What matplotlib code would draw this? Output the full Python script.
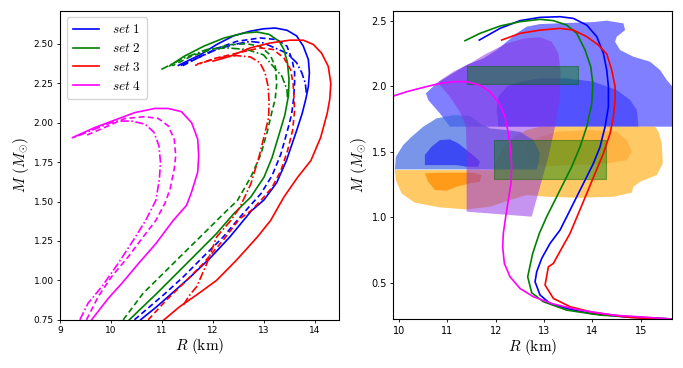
import matplotlib
matplotlib.use("Agg")
import matplotlib.pyplot as plt

plt.rcParams['mathtext.fontset'] = 'cm'

# ---------------- left panel: M-R curves, 4 sets x 3 line styles ----------------
set1_solid_R = [10.58, 10.90, 11.16, 11.55, 11.94, 12.33, 12.75, 13.0, 13.25, 13.44, 13.64, 13.75, 13.82,
                13.87, 13.89, 13.87, 13.77, 13.64, 13.45, 13.22, 12.99, 12.73, 12.40, 12.07, 11.75, 11.32]
set1_solid_M = [0.75, 0.834, 0.908, 1.02, 1.14, 1.275, 1.44, 1.51, 1.62, 1.76, 1.95, 2.06, 2.15,
                2.23, 2.317, 2.40, 2.485, 2.55, 2.586, 2.60, 2.595, 2.58, 2.55, 2.495, 2.43, 2.363]
set1_dash_R = [10.46, 11.03, 11.42, 11.81, 12.20, 12.58, 12.94, 13.16, 13.33, 13.46, 13.54, 13.58, 13.60,
               13.60, 13.55, 13.45, 13.25, 12.92, 12.46, 12.07, 11.70, 11.40]
set1_dash_M = [0.75, 0.908, 1.023, 1.15, 1.275, 1.42, 1.55, 1.665, 1.80, 1.95, 2.05, 2.15, 2.25,
               2.32, 2.40, 2.485, 2.527, 2.537, 2.515, 2.47, 2.41, 2.36]
set1_dd_R = [13.83, 13.81, 13.74, 13.64, 13.45, 13.24, 12.99, 12.73, 12.40, 12.07, 11.70, 11.35]
set1_dd_M = [2.19, 2.25, 2.317, 2.38, 2.44, 2.47, 2.505, 2.515, 2.495, 2.464, 2.41, 2.36]

set2_solid_R = [10.36, 10.90, 11.29, 11.68, 12.07, 12.40, 12.74, 13.0, 13.16, 13.30, 13.41, 13.45, 13.48,
                13.49, 13.46, 13.39, 13.30, 13.10, 12.86, 12.61, 12.22, 11.82, 11.43, 11.15]
set2_solid_M = [0.75, 0.918, 1.044, 1.17, 1.297, 1.42, 1.528, 1.654, 1.78, 1.93, 2.05, 2.12, 2.17,
                2.275, 2.38, 2.464, 2.515, 2.56, 2.575, 2.568, 2.537, 2.485, 2.42, 2.36]
set2_dash_R = [10.24, 10.63, 11.09, 11.48, 11.88, 12.2, 12.48, 12.74, 12.94, 13.07, 13.16, 13.22, 13.25,
               13.22, 13.12, 12.92, 12.66, 12.35, 11.96, 11.57, 11.2]
set2_dash_M = [0.75, 0.918, 1.065, 1.19, 1.317, 1.42, 1.507, 1.654, 1.80, 1.95, 2.075, 2.15, 2.25,
               2.357, 2.43, 2.485, 2.50, 2.495, 2.464, 2.42, 2.36]
set2_dd_R = [13.46, 13.45, 13.35, 13.18, 12.99, 12.66, 12.27, 11.88, 11.43, 10.99]
set2_dd_M = [2.16, 2.21, 2.295, 2.357, 2.43, 2.464, 2.474, 2.464, 2.41, 2.338]

set3_solid_R = [11.04, 11.35, 11.68, 12.07, 12.46, 12.87, 13.13, 13.39, 13.66, 13.92, 14.11, 14.24, 14.29,
                14.31, 14.26, 14.13, 13.97, 13.77, 13.51, 13.12, 12.73, 12.33, 12.0]
set3_solid_M = [0.75, 0.834, 0.908, 1.0, 1.128, 1.275, 1.38, 1.528, 1.654, 1.76, 1.905, 2.06, 2.15,
                2.25, 2.357, 2.44, 2.495, 2.523, 2.523, 2.505, 2.474, 2.42, 2.39]
set3_dash_R = [10.73, 11.09, 11.42, 11.81, 12.20, 12.52, 12.74, 12.94, 13.16, 13.33, 13.46, 13.56, 13.60,
               13.59, 13.57, 13.52, 13.39, 13.18, 12.92, 12.46, 12.07, 11.68]
set3_dash_M = [0.75, 0.876, 0.98, 1.107, 1.255, 1.39, 1.44, 1.507, 1.59, 1.696, 1.82, 1.95, 2.075,
               2.15, 2.25, 2.337, 2.41, 2.464, 2.474, 2.44, 2.41, 2.37]
set3_dd_R = [11.42, 11.55, 11.68, 11.88, 12.07, 12.35, 12.53, 12.74, 12.90, 13.03, 13.09, 13.10, 13.08,
             13.02, 12.92, 12.73, 12.46, 12.07, 11.65]
set3_dd_M = [0.845, 0.91, 0.96, 1.107, 1.275, 1.38, 1.465, 1.61, 1.78, 1.95, 2.03, 2.127, 2.23,
             2.317, 2.38, 2.417, 2.425, 2.41, 2.363]

set4_solid_R = [9.62, 9.95, 10.21, 10.54, 10.88, 11.22, 11.48, 11.58, 11.70, 11.72, 11.70, 11.58, 11.38,
                11.12, 10.86, 10.47, 10.08, 9.69, 9.25]
set4_solid_M = [0.75, 0.887, 0.98, 1.107, 1.233, 1.38, 1.475, 1.56, 1.686, 1.79, 1.896, 2.0, 2.07,
                2.09, 2.09, 2.064, 2.017, 1.97, 1.906]
set4_dash_R = [9.52, 9.75, 10.01, 10.34, 10.63, 10.88, 11.06, 11.16, 11.24, 11.27, 11.24, 11.12, 10.93,
               10.67, 10.27, 9.88, 9.52]
set4_dash_M = [0.75, 0.897, 1.023, 1.15, 1.275, 1.38, 1.49, 1.58, 1.706, 1.79, 1.896, 1.98, 2.026,
               2.038, 2.026, 1.97, 1.92]
set4_dd_R = [9.39, 9.55, 9.82, 10.14, 10.44, 10.68, 10.88, 10.95, 10.97, 10.94, 10.84, 10.67, 10.41,
             10.08, 9.69, 9.23]
set4_dd_M = [0.75, 0.855, 0.96, 1.107, 1.255, 1.38, 1.507, 1.644, 1.75, 1.854, 1.94, 1.99, 2.01,
             2.01, 1.96, 1.90]

# ---------------- right panel: M-R curves ----------------
r_set1_R = [11.659, 12.087, 12.501, 12.915, 13.329, 13.605, 13.881, 14.088, 14.226, 14.295, 14.329, 14.329,
            14.260, 14.157, 14.019, 13.847, 13.674, 13.502, 13.329, 13.122, 12.950, 12.846, 12.812, 12.915,
            13.122, 13.467, 13.950, 14.640, 15.655]
r_set1_M = [2.352, 2.441, 2.500, 2.525, 2.530, 2.517, 2.466, 2.378, 2.250, 2.123, 1.996, 1.844,
            1.692, 1.539, 1.412, 1.285, 1.158, 1.031, 0.904, 0.802, 0.688, 0.586, 0.510, 0.409,
            0.345, 0.307, 0.269, 0.243, 0.226]
r_set2_R = [11.363, 11.673, 12.087, 12.501, 12.915, 13.191, 13.467, 13.674, 13.847, 13.964, 14.006, 13.985,
            13.881, 13.743, 13.571, 13.398, 13.226, 13.053, 12.901, 12.763, 12.660, 12.743, 12.984, 13.467,
            14.157, 15.655]
r_set2_M = [2.347, 2.403, 2.459, 2.492, 2.510, 2.500, 2.466, 2.403, 2.276, 2.149, 2.022, 1.869,
            1.692, 1.539, 1.387, 1.260, 1.133, 1.006, 0.879, 0.726, 0.548, 0.426, 0.358, 0.294,
            0.256, 0.226]
r_set3_R = [12.122, 12.501, 12.915, 13.329, 13.605, 13.881, 14.122, 14.295, 14.398, 14.467, 14.467, 14.433,
            14.364, 14.226, 14.053, 13.881, 13.709, 13.536, 13.343, 13.191, 13.088, 13.019, 13.191, 13.536,
            14.019, 14.778, 15.655]
r_set3_M = [2.352, 2.403, 2.428, 2.441, 2.428, 2.378, 2.314, 2.246, 2.123, 1.996, 1.895, 1.768,
            1.641, 1.488, 1.336, 1.183, 1.031, 0.879, 0.752, 0.650, 0.624, 0.485, 0.383, 0.320,
            0.276, 0.238, 0.218]
r_set4_R = [9.879, 10.155, 10.500, 10.845, 11.121, 11.397, 11.673, 11.880, 12.073, 12.191, 12.260, 12.308,
            12.329, 12.315, 12.260, 12.205, 12.156, 12.143, 12.177, 12.294, 12.501, 12.777, 13.191, 13.743,
            14.433, 15.655]
r_set4_M = [1.925, 1.958, 1.991, 2.022, 2.035, 2.035, 2.009, 1.958, 1.869, 1.768, 1.641, 1.514,
            1.387, 1.260, 1.133, 1.006, 0.879, 0.777, 0.650, 0.548, 0.459, 0.396, 0.340, 0.294,
            0.256, 0.226]

# ---------------- right panel: observational regions ----------------
heavy90_R = [11.052, 10.845, 10.603, 10.555, 10.776, 11.052, 11.397, 11.742, 12.018, 12.225, 12.432, 12.639,
             12.915, 13.260, 13.605, 14.019, 14.295, 14.640, 14.674, 14.502, 14.467, 14.571, 14.847, 15.192,
             15.399, 15.537, 15.655, 15.8, 15.8]
heavy90_M = [1.692, 1.793, 1.895, 1.946, 2.022, 2.085, 2.162, 2.212, 2.276, 2.339, 2.403, 2.454,
             2.474, 2.479, 2.484, 2.489, 2.500, 2.479, 2.428, 2.378, 2.339, 2.276, 2.225, 2.187,
             2.123, 2.047, 1.996, 1.96, 1.692]
heavy50_R = [12.052, 12.018, 12.052, 12.225, 12.501, 12.915, 13.467, 14.019, 14.502, 14.778, 14.916, 14.951]
heavy50_M = [1.692, 1.819, 1.920, 1.996, 2.035, 2.060, 2.060, 2.035, 1.971, 1.895, 1.819, 1.692]

nicer90_R = [9.913, 9.934, 10.086, 10.258, 10.500, 10.776, 11.121, 11.466, 11.673, 11.880, 12.225, 12.501,
             12.777, 12.915, 12.881, 12.846]
nicer90_M = [1.366, 1.463, 1.552, 1.615, 1.692, 1.755, 1.780, 1.775, 1.717, 1.679, 1.666, 1.653,
             1.590, 1.488, 1.412, 1.366]
nicer50_R = [10.534, 10.534, 10.672, 10.845, 11.052, 11.224, 11.397, 11.569, 11.673, 11.638, 11.397, 11.190, 10.845]
nicer50_M = [1.399, 1.476, 1.539, 1.590, 1.595, 1.565, 1.514, 1.463, 1.425, 1.387, 1.387, 1.399, 1.399]

gw90_R = [9.913, 9.934, 10.051, 10.327, 10.845, 11.397, 11.880, 12.294, 12.639, 13.053, 13.743, 14.433,
          14.812, 14.847, 14.985, 15.330, 15.454, 15.434, 15.365, 15.296, 12.915, 12.639, 12.363, 12.156,
          12.018, 11.949]
gw90_M = [1.361, 1.285, 1.183, 1.112, 1.077, 1.061, 1.082, 1.133, 1.171, 1.158, 1.150, 1.158,
          1.189, 1.234, 1.272, 1.323, 1.412, 1.565, 1.653, 1.692, 1.692, 1.666, 1.615, 1.539,
          1.437, 1.361]
gw50a_R = [10.534, 10.603, 10.741, 10.983, 11.190, 11.466, 11.673, 11.707, 11.535, 10.845]
gw50a_M = [1.336, 1.272, 1.209, 1.204, 1.234, 1.260, 1.272, 1.323, 1.341, 1.341]
gw50b_R = [12.639, 12.915, 13.260, 13.950, 14.502, 14.709, 14.812, 14.709, 14.295, 13.605, 13.053, 12.708, 12.605]
gw50b_M = [1.565, 1.615, 1.653, 1.666, 1.653, 1.590, 1.501, 1.437, 1.412, 1.399, 1.392, 1.412, 1.488]

band_R = [11.397, 12.743, 12.915, 13.088, 13.226, 13.315, 13.343, 13.295, 13.157, 12.915, 12.605, 12.225,
          11.811, 11.466, 11.121, 10.810, 10.845, 11.052, 11.259, 11.383, 11.397]
band_M = [1.044, 1.006, 1.234, 1.463, 1.692, 1.895, 2.098, 2.250, 2.339, 2.373, 2.365, 2.326,
          2.250, 2.174, 2.111, 2.035, 2.009, 1.920, 1.806, 1.692, 1.514]

box1_R = [11.41, 13.71]
box1_M = [2.014, 2.154]
box2_R = [11.96, 14.27]
box2_M = [1.29, 1.59]

set_colors = ['blue', 'green', 'red', 'magenta']
set_labels = [r'$set\ 1$', r'$set\ 2$', r'$set\ 3$', r'$set\ 4$']

fig = plt.figure(figsize=(6.83, 3.68), dpi=100)
ax1 = fig.add_axes([0.0878, 0.131, 0.4085, 0.840])
ax2 = fig.add_axes([0.5758, 0.132, 0.4085, 0.839])

# ---------------- left ----------------
left_curves = [
    (set1_solid_R, set1_solid_M, set1_dash_R, set1_dash_M, set1_dd_R, set1_dd_M),
    (set2_solid_R, set2_solid_M, set2_dash_R, set2_dash_M, set2_dd_R, set2_dd_M),
    (set3_solid_R, set3_solid_M, set3_dash_R, set3_dash_M, set3_dd_R, set3_dd_M),
    (set4_solid_R, set4_solid_M, set4_dash_R, set4_dash_M, set4_dd_R, set4_dd_M),
]
for (sR, sM, dR, dM, ddR, ddM), c, lab in zip(left_curves, set_colors, set_labels):
    ax1.plot(sR, sM, '-', color=c, lw=1.2, label=lab)
    ax1.plot(dR, dM, '--', color=c, lw=1.2, dashes=(3.5, 2))
    ax1.plot(ddR, ddM, '-.', color=c, lw=1.2, dashes=(5, 1.5, 1, 1.5))

ax1.set_xlim(9, 14.47)
ax1.set_ylim(0.75, 2.71)
ax1.set_xticks([9, 10, 11, 12, 13, 14])
ax1.set_yticks([0.75, 1.0, 1.25, 1.5, 1.75, 2.0, 2.25, 2.5])
ax1.set_yticklabels(['%.2f' % v for v in [0.75, 1.0, 1.25, 1.5, 1.75, 2.0, 2.25, 2.5]])
ax1.tick_params(labelsize=6.5, length=2.5, width=0.6, pad=2)
ax1.set_xlabel(r'$R\ \rm (km)$', fontsize=11, labelpad=1)
ax1.set_ylabel(r'$M\ (M_{\odot})$', fontsize=11, labelpad=2)
ax1.legend(loc='upper left', fontsize=9.5, handlelength=2.0, labelspacing=0.45,
           borderpad=0.45, handletextpad=1.0)

# ---------------- right ----------------
ax2.fill(heavy90_R, heavy90_M, color='blue', alpha=0.5, lw=0)
ax2.fill(heavy50_R, heavy50_M, color='blue', alpha=0.35, lw=0)
ax2.fill(gw90_R, gw90_M, color='orange', alpha=0.6, lw=0)
ax2.fill(gw50a_R, gw50a_M, color='darkorange', alpha=0.75, lw=0)
ax2.fill(gw50b_R, gw50b_M, color='darkorange', alpha=0.35, lw=0)
ax2.fill(nicer90_R, nicer90_M, color='royalblue', alpha=0.7, lw=0)
ax2.fill(nicer50_R, nicer50_M, color='blue', alpha=0.5, lw=0)
ax2.fill(band_R, band_M, color='blueviolet', alpha=0.5, lw=0)
for bR, bM in [(box1_R, box1_M), (box2_R, box2_M)]:
    ax2.fill_between(bR, bM[0], bM[1], facecolor='green', alpha=0.45,
                     edgecolor='darkgreen', lw=0.8)

for R, M, c in zip([r_set1_R, r_set2_R, r_set3_R, r_set4_R],
                   [r_set1_M, r_set2_M, r_set3_M, r_set4_M], set_colors):
    ax2.plot(R, M, '-', color=c, lw=1.2)

ax2.set_xlim(9.88, 15.65)
ax2.set_ylim(0.223, 2.576)
ax2.set_xticks([10, 11, 12, 13, 14, 15])
ax2.set_yticks([0.5, 1.0, 1.5, 2.0, 2.5])
ax2.tick_params(labelsize=7, length=2.5, width=0.6, pad=2)
ax2.set_xlabel(r'$R\ \rm (km)$', fontsize=11, labelpad=1)
ax2.set_ylabel(r'$M\ (M_{\odot})$', fontsize=11, labelpad=2)

plt.savefig('out.png', dpi=100)
plt.close()
